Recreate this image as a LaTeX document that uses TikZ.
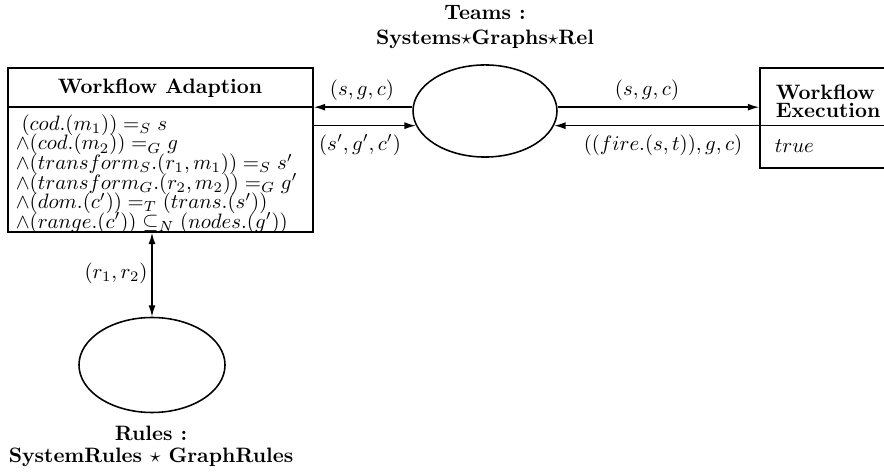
\documentclass[tikz,border=0pt]{standalone}
\usetikzlibrary{arrows.meta,shapes.geometric}
\begin{document}
\begin{tikzpicture}[x=0.48pt,y=-0.48pt,line width=0.75pt,
  tip/.tip={Latex[length=5.5pt,width=3.4pt]},
  arr/.style={-tip},
  darr/.style={tip-tip},
  lbl/.style={inner sep=0pt},
  headline/.style={font=\bfseries,align=center,inner sep=0pt},
  box/.style={draw,rectangle,inner sep=0pt},
  place/.style={draw,ellipse,inner sep=0pt}]
\useasboundingbox (0,0) rectangle (884,476);
\clip (0,0) rectangle (884,476);

% rows used by the separators and connectors
\coordinate (rowA) at (0,107);

% Workflow Adaption
\node (wa) [box,minimum width=146.4pt,minimum height=78.7pt] at (160.5,150) {};
\draw (wa.west |- rowA) -- (wa.east |- rowA);
\node (wahead) [headline] at (160,88) {Workflow Adaption};
\node (cond) [anchor=north west,inner sep=0pt,align=left,
  font={\fontsize{10pt}{9.4pt}\selectfont\lineskiplimit=-20pt}] at (15,114)
  {\hspace*{2.8pt}$(cod.(m_1)) =_S s$\\
   $\wedge(cod.(m_2)) =_G g$\\
   $\wedge(transform_S.(r_1,m_1)) =_S s'$\\
   $\wedge(transform_G.(r_2,m_2)) =_G g'$\\
   $\wedge(dom.(c')) =_T (trans.(s'))$\\
   $\wedge(range.(c')) \subseteq_N (nodes.(g'))$};

% Teams
\node (teams) [place,minimum width=69.1pt,minimum height=44.2pt] at (485,111) {};
\node (teamslbl) [headline,font={\fontsize{10pt}{12pt}\selectfont\bfseries}] at (485,27)
  {Teams :\\ Systems$\star$Graphs$\star$Rel};

% Workflow Execution
\node (we) [box,minimum width=67.2pt,minimum height=48pt] at (830,118) {};
\draw (we.west |- teams.-12) -- (we.east |- teams.-12);
\node (wehead) [anchor=north west,inner sep=0pt,align=left,
  font={\fontsize{10pt}{8.6pt}\selectfont\bfseries\lineskiplimit=-20pt}] at (775,84)
  {Workflow\\Execution};
\node (wetrue) [lbl,anchor=west] at (774,146) {$true$};

% Rules
\node (rules) [place,minimum width=70.1pt,minimum height=45.6pt] at (152,365) {};
\node (ruleslbl) [headline,font={\fontsize{10pt}{10.6pt}\selectfont\bfseries}] at (151,446)
  {Rules :\\ SystemRules $\star$ GraphRules};

% connectors
\draw[arr] (teams.177) -- (teams.177 -| wa.east);
\draw[arr] (teams.192 -| wa.east) -- (teams.192);
\draw[arr] (teams.3) -- (teams.3 -| we.west);
\draw[arr] (teams.-12 -| we.west) -- (teams.-12);
\draw[darr] (rules.north |- wa.south) -- (rules.north);

% connector labels
\node (l1) [lbl] at (362,90) {$(s,g,c)$};
\node (l2) [lbl] at (360,145) {$(s',g',c')$};
\node (l3) [lbl] at (647,90) {$(s,g,c)$};
\node (l4) [lbl] at (663,145) {$((fire.(s,t)),g,c)$};
\node (l5) [lbl] at (116,273) {$(r_1,r_2)$};
\end{tikzpicture}
\end{document}
